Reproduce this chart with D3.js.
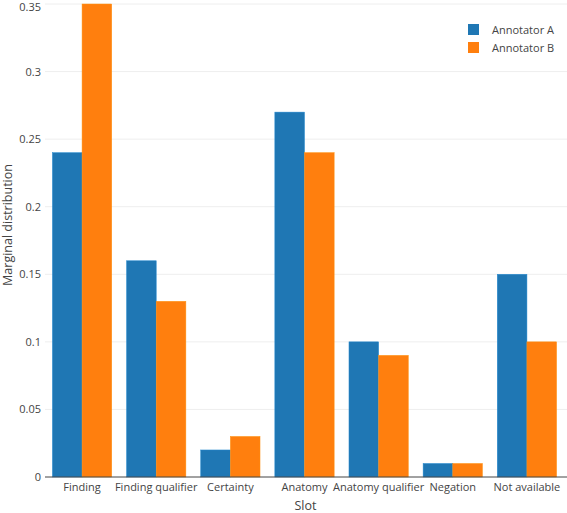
<!DOCTYPE html>
<html><head><meta charset="utf-8">
<script src="https://cdn.jsdelivr.net/npm/d3@7/dist/d3.min.js"></script>
<style>body{margin:0;background:#fff}svg{display:block;font-family:"Open Sans",sans-serif}</style>
</head><body><svg id="c" width="567" height="513"></svg>
<script>
const categories = ["Finding","Finding qualifier","Certainty","Anatomy","Anatomy qualifier","Negation","Not available"];
const annotatorA = [0.24,0.16,0.02,0.27,0.10,0.01,0.15];
const annotatorB = [0.35,0.13,0.03,0.24,0.09,0.01,0.10];
const seriesNames = ["Annotator A","Annotator B"];
const colors = ["#1f77b4","#ff7f0e"];
const yTicks = [0,0.05,0.1,0.15,0.2,0.25,0.3,0.35];

const svg = d3.select("#c");
const L=45, R=564, T=4, B=477;
const x = d3.scaleBand().domain(categories).range([L,R]).paddingInner(0.2).paddingOuter(0.1);
const xs = d3.scaleBand().domain(seriesNames).range([0,x.bandwidth()]);
const y = d3.scaleLinear().domain([0,0.35]).range([B,T]);

// grid
svg.append("g").selectAll("line").data(yTicks.filter(d=>d>0)).join("line")
  .attr("x1",L).attr("x2",R+3).attr("y1",d=>y(d)).attr("y2",d=>y(d))
  .attr("stroke","#eee").attr("stroke-width",1);

const data = [annotatorA, annotatorB];
data.forEach((vals,si)=>{
  svg.append("g").selectAll("rect").data(vals).join("rect")
    .attr("x",(d,i)=>x(categories[i])+xs(seriesNames[si]))
    .attr("width",xs.bandwidth())
    .attr("y",d=>y(d)).attr("height",d=>B-y(d))
    .attr("fill",colors[si]).attr("stroke",d3.color(colors[si]).brighter(0.4)).attr("stroke-width",0.5);
});

// zero line
svg.append("line").attr("x1",L).attr("x2",R+3).attr("y1",B).attr("y2",B).attr("stroke","#444").attr("stroke-width",1);

// y axis labels
const yAxis = d3.axisLeft(y).tickValues(yTicks).tickFormat(d=>d===0?"0":String(+d.toFixed(2))).tickSize(0).tickPadding(3);
const ga = svg.append("g").attr("transform",`translate(${L-1},0)`).call(yAxis);
ga.select(".domain").remove();
ga.selectAll("text").attr("fill","#444").style("font-size","11px").style("font-family","'Open Sans',sans-serif");
ga.selectAll(".tick").filter(d=>d===0.35).select("text").attr("dy","0.55em");

// x axis labels
const xAxis = d3.axisBottom(x).tickSize(0).tickPadding(6);
const gx = svg.append("g").attr("transform",`translate(0,${B})`).call(xAxis);
gx.select(".domain").remove();
gx.selectAll("text").attr("fill","#444").style("font-size","11px").style("font-family","'Open Sans',sans-serif");

// titles
svg.append("text").attr("x",(L+R)/2+1).attr("y",510).attr("text-anchor","middle")
  .attr("fill","#444").style("font-size","12.5px").text("Slot");
svg.append("text").attr("transform",`translate(12,225) rotate(-90)`).attr("text-anchor","middle")
  .attr("fill","#444").style("font-size","12.5px").text("Marginal distribution");

// legend
const lg = svg.append("g").attr("transform","translate(468,24)");
seriesNames.forEach((n,i)=>{
  lg.append("rect").attr("x",0).attr("y",i*18).attr("width",11).attr("height",11).attr("fill",colors[i]);
  lg.append("text").attr("x",24).attr("y",i*18+9.5).attr("fill","#444").style("font-size","11px").text(n);
});
</script></body></html>
